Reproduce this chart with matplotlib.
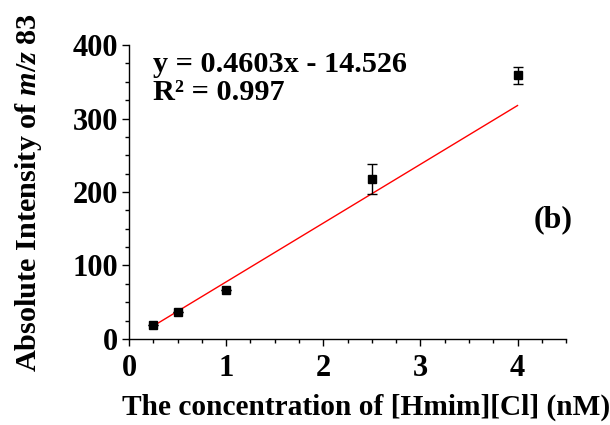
import matplotlib
matplotlib.use('Agg')
import matplotlib.pyplot as plt
from matplotlib.ticker import MultipleLocator

# data
conc = [0.25, 0.5, 1.0, 2.5, 4.0]
intensity = [18.7, 36.4, 66.4, 217.8, 358.6]
err = [0, 0, 0, 21, 12]

# drawn fit line (as plotted)
fit_x = [0.25, 4.0]
fit_slope = 80.0
fit_icpt = -2.3
fit_y = [fit_slope * x + fit_icpt for x in fit_x]

plt.rcParams['font.family'] = 'Liberation Serif'
plt.rcParams['font.weight'] = 'bold'
plt.rcParams['mathtext.fontset'] = 'custom'
plt.rcParams['mathtext.rm'] = 'Liberation Serif:bold'
plt.rcParams['mathtext.it'] = 'Liberation Serif:italic:bold'

fig = plt.figure(figsize=(6.1, 4.25), dpi=100)
ax = fig.add_axes([0.2115, 0.2024, 0.7165, 0.6916])

ax.plot(fit_x, fit_y, color='red', lw=1.0, zorder=2)
ax.errorbar(conc, intensity, yerr=err, fmt='s', color='black', ms=6,
            ecolor='black', elinewidth=1.0, capsize=3.5, capthick=1.0, zorder=3)

ax.set_xlim(0, 4.5)
ax.set_ylim(0, 400)
ax.xaxis.set_major_locator(MultipleLocator(1))
ax.xaxis.set_minor_locator(MultipleLocator(0.25))
ax.yaxis.set_major_locator(MultipleLocator(100))
ax.yaxis.set_minor_locator(MultipleLocator(25))
for s in ['top', 'right']:
    ax.spines[s].set_visible(False)
for s in ['left', 'bottom']:
    ax.spines[s].set_linewidth(1.0)
ax.tick_params(which='major', direction='out', length=5, width=1.0, labelsize=22)
ax.tick_params(axis='x', which='major', pad=6)
ax.tick_params(axis='y', which='major', pad=3)
ax.tick_params(which='minor', direction='out', length=3, width=1.0)

ax.set_xlabel('The concentration of [Hmim][Cl] (nM)', fontsize=21.2, fontweight='bold')
ax.xaxis.set_label_coords(0.542, -0.2585)
ax.xaxis.label.set_verticalalignment('baseline')
ax.set_ylabel(r'Absolute Intensity of $\mathit{m/z}$ 83', fontsize=21.8, fontweight='bold')
ax.yaxis.set_label_coords(-0.229, 0.5)
ax.yaxis.label.set_verticalalignment('center')

ax.text(0.055, 0.909, 'y = 0.4603x - 14.526', transform=ax.transAxes,
        fontsize=21.8, fontweight='bold', va='baseline', ha='left')
ax.text(0.055, 0.813, 'R\u00b2 = 0.997', transform=ax.transAxes,
        fontsize=21.8, fontweight='bold', va='baseline', ha='left')
ax.text(0.970, 0.405, '(b)', transform=ax.transAxes,
        fontsize=23, fontweight='bold', va='center', ha='center')

fig.savefig('out.png', dpi=100)
